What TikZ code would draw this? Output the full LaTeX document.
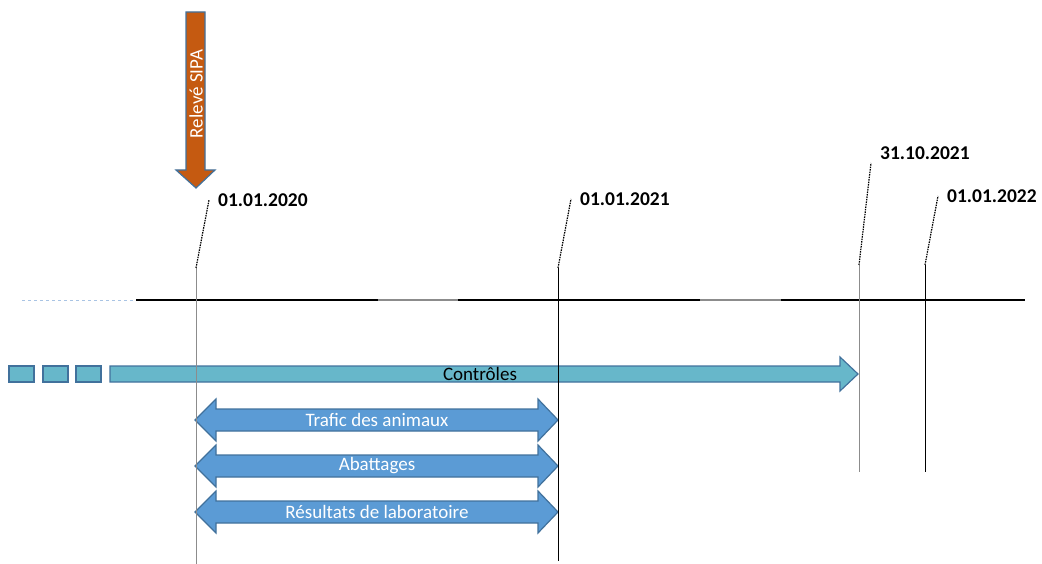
\documentclass[tikz,border=0pt]{standalone}
\usepackage{fontspec}
\setmainfont{Carlito}
\usetikzlibrary{positioning}
\definecolor{sipaorange}{HTML}{C55A11}
\definecolor{frameblue}{HTML}{41719C}
\definecolor{ctrlteal}{HTML}{67B7CA}
\definecolor{spanblue}{HTML}{5B9BD5}
\definecolor{axisgray}{HTML}{8C8C8C}
\definecolor{fadeblue}{HTML}{A9C4E4}
\tikzstyle{datelabel}=[font=\bfseries\fontsize{19.5}{19.5}\selectfont, inner sep=0pt]
\tikzstyle{leader}=[draw, dash pattern=on 1.5pt off 1pt, line width=1.2pt]
\tikzstyle{tick}=[draw, line width=1pt]
\tikzstyle{ctrl}=[draw=frameblue, fill=ctrlteal, line width=1.2pt]
\tikzstyle{span}=[draw=frameblue, fill=spanblue, line width=1.2pt]
\tikzstyle{barlabel}=[font=\fontsize{19}{19}\selectfont, text=white]

\begin{document}
\begin{tikzpicture}[x=1pt, y=-1pt]
	\useasboundingbox (0,0) rectangle (1042,564);

	% First the timeline itself
	\draw[dashed, fadeblue, line width=1pt] (22,300) -- (136,300);
	\foreach \a/\b/\col in {136/378/black, 378/458/axisgray, 458/700/black, 700/781/axisgray, 781/1025/black}
	\draw[\col, line width=1.2pt] (\a,300) -- (\b,300);

	% Controls arrow with its dashed tail
	\foreach \x in {9,43,76}
	\draw[ctrl] (\x,366) rectangle +(25,16);
	\draw[ctrl] (110,366) -- (840,366) -- (840,357) -- (858,374) -- (840,391) -- (840,382) -- (110,382) -- cycle;
	\node[font=\fontsize{19}{19}\selectfont] (ctrl) at (480,374) {Contrôles};

	% Periods covered by the data
	\foreach \y/\name/\txt in {420/trafic/Trafic des animaux, 466/abattages/Abattages, 512/labo/Résultats de laboratoire}
	{
		\draw[span] (195,\y) -- (216,\y-21) -- (216,\y-11) -- (538,\y-11) -- (538,\y-21) -- (558,\y)
			-- (538,\y+21) -- (538,\y+11) -- (216,\y+11) -- (216,\y+21) -- cycle;
		\node[barlabel] (\name) at (377,\y) {\txt};
	}

	% Then the dates, each with its leader
	\foreach \x/\ytop/\ybot/\lx/\ly/\dy/\name/\date/\col in {196/268/564/209/200/0/d2020/01.01.2020/axisgray, 558/268/561/571/199/0/d2021/01.01.2021/black, 859/265/472/871/163/10/d2021b/31.10.2021/axisgray, 925/265/472/938/196/0/d2022/01.01.2022/black}
	{
		\coordinate (\name base) at (\x,\ytop);
		\coordinate (\name tip) at (\lx,\ly);
		\path[tick, \col] (\name base) -- (\x,\ybot);
		\path[leader] (\name base) -- (\name tip);
		\node[datelabel, right=9pt of \name tip, yshift=\dy pt] (\name) {\date};
	}

	% Data extraction
	\draw[draw=frameblue, fill=sipaorange, line width=1.2pt] (186,12) -- (205,12) -- (205,170) -- (215,170)
		-- (196,188) -- (176,170) -- (186,170) -- cycle;
	\node[barlabel, rotate=90] (sipa) at (196,94) {Relevé SIPA};
\end{tikzpicture}
\end{document}
